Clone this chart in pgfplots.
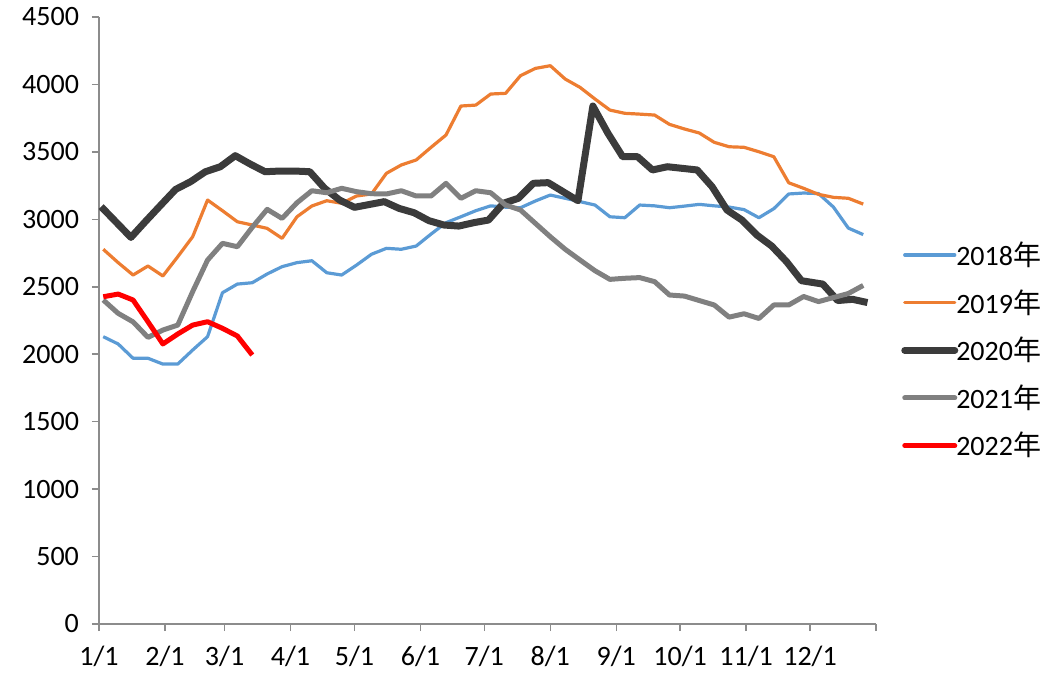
\documentclass[border=0pt]{standalone}
\usepackage{fontspec}
\setmainfont{Carlito}
\newfontfamily\cjk{Noto Sans CJK SC}
\usepackage{pgfplots}
\pgfplotsset{compat=1.18}

\definecolor{c18}{HTML}{5B9BD5}
\definecolor{c19}{HTML}{ED7D31}
\definecolor{c20}{HTML}{3B3B3B}
\definecolor{c21}{HTML}{808080}
\definecolor{c22}{HTML}{FF0000}
\definecolor{axisgray}{HTML}{8C8C8C}

\begin{document}
\begin{tikzpicture}
\begin{axis}[
    at={(0,0)}, anchor=south west,
    scale only axis,
    width=388.5pt, height=303.5pt,
    xmin=0, xmax=365,
    ymin=0, ymax=4500,
    axis x line*=bottom, axis y line*=left,
    axis line style={draw=axisgray, line width=0.75pt},
    tick style={draw=axisgray, line width=0.75pt},
    tick align=outside,
    major tick length=3.5pt,
    xtick={0,31,59,90,120,151,181,212,243,273,304,334,365},
    xticklabels={1/1,2/1,3/1,4/1,5/1,6/1,7/1,8/1,9/1,10/1,11/1,12/1,{}},
    ytick={0,500,...,4500},
    scaled y ticks=false,
    /pgf/number format/1000 sep={},
    /pgf/number format/assume math mode=true,
    tick label style={font=\fontsize{14}{16}\selectfont, text=black},
    yticklabel style={xshift=-3pt},
    xticklabel style={yshift=-4pt},
    clip=false,
    legend style={at={(1.032,0.637)}, anchor=north west, draw=none, fill=none,
        font=\fontsize{14}{16}\selectfont, inner sep=0pt, row sep=6.5pt,
        column sep=-2.5pt, nodes={inner xsep=1.5pt}},
    legend cell align=left,
    legend image code/.code={\draw[#1, line cap=round] (0pt,0pt) -- (25pt,0pt);},
    every axis plot/.append style={line join=round},
]
\addplot[color=c18, line width=1.6pt] coordinates {
(2,2130)(9,2076)(16,1970)(23,1970)(30,1927)(37,1927)(44,2031)(51,2130)(58,2456)(65,2520)
(72,2530)(79,2595)(86,2649)(93,2679)(100,2693)(107,2604)(114,2587)(121,2661)(128,2741)(135,2785)
(142,2778)(149,2802)(156,2891)(163,2975)(170,3019)(177,3064)(184,3100)(191,3090)(198,3086)(205,3136)
(212,3180)(219,3156)(226,3131)(233,3106)(240,3019)(247,3012)(254,3106)(261,3100)(268,3086)(275,3098)
(282,3111)(289,3100)(296,3091)(303,3072)(310,3012)(317,3079)(324,3188)(331,3195)(338,3191)(345,3091)
(352,2935)(359,2887)};
\addlegendentry{2018{\cjk 年}}
\addplot[color=c19, line width=1.6pt] coordinates {
(2,2778)(9,2679)(16,2587)(23,2654)(30,2580)(37,2723)(44,2871)(51,3143)(58,3064)(65,2982)
(72,2958)(79,2933)(86,2859)(93,3019)(100,3099)(107,3138)(114,3119)(121,3173)(128,3188)(135,3341)
(142,3403)(149,3440)(156,3534)(163,3625)(170,3840)(177,3847)(184,3929)(191,3934)(198,4065)(205,4119)
(212,4139)(219,4040)(226,3978)(233,3892)(240,3810)(247,3786)(254,3780)(261,3773)(268,3704)(275,3670)
(282,3640)(289,3571)(296,3538)(303,3534)(310,3501)(317,3464)(324,3271)(331,3230)(338,3185)(345,3163)
(352,3156)(359,3113)};
\addlegendentry{2019{\cjk 年}}
\addplot[color=c20, line width=3.5pt] coordinates {
(1,3094)(8,2980)(15,2866)(22,2987)(29,3105)(36,3222)(43,3279)(50,3353)(57,3390)(64,3472)
(71,3410)(78,3353)(85,3358)(92,3358)(99,3353)(106,3230)(113,3143)(120,3089)(127,3110)(134,3131)
(141,3081)(148,3049)(155,2990)(162,2958)(169,2950)(176,2975)(183,2995)(190,3119)(197,3156)(204,3267)
(211,3272)(218,3205)(225,3138)(232,3840)(239,3640)(246,3464)(253,3464)(260,3366)(267,3390)(274,3378)
(281,3366)(288,3242)(295,3069)(302,2995)(309,2884)(316,2802)(323,2686)(330,2545)(340,2520)(347,2398)
(354,2407)(361,2383)};
\addlegendentry{2020{\cjk 年}}
\addplot[color=c21, line width=2.5pt] coordinates {
(2,2402)(9,2303)(16,2240)(23,2125)(30,2179)(37,2216)(44,2464)(51,2698)(58,2822)(65,2797)
(72,2941)(79,3074)(86,3007)(93,3123)(100,3212)(107,3197)(114,3230)(121,3205)(128,3190)(135,3188)
(142,3212)(149,3173)(156,3173)(163,3267)(170,3156)(177,3212)(184,3197)(191,3106)(198,3069)(205,2970)
(212,2871)(219,2778)(226,2698)(233,2619)(240,2555)(247,2563)(254,2568)(261,2538)(268,2439)(275,2431)
(282,2398)(289,2365)(296,2275)(303,2300)(310,2265)(317,2365)(324,2365)(331,2428)(338,2390)(345,2420)
(352,2450)(359,2510)};
\addlegendentry{2021{\cjk 年}}
\addplot[color=c22, line width=2.5pt] coordinates {
(2,2426)(9,2446)(16,2402)(23,2241)(30,2076)(37,2150)(44,2216)(51,2241)(58,2192)(65,2135)(72,1994)};
\addlegendentry{2022{\cjk 年}}
\end{axis}
\pgfresetboundingbox
\path (-49.5pt,-25.5pt) rectangle (478.5pt,312pt);
\end{tikzpicture}
\end{document}
